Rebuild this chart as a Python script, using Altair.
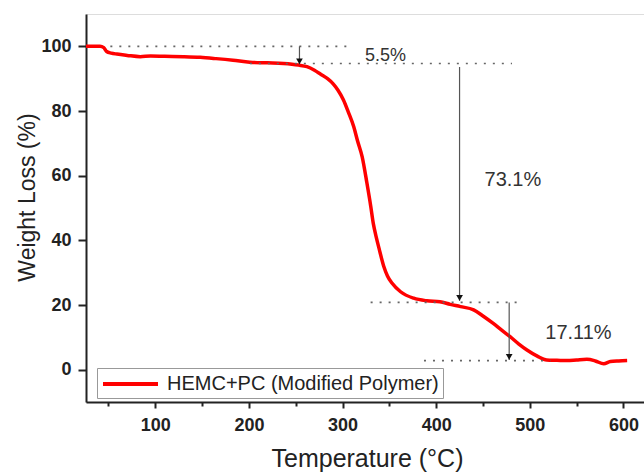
import altair as alt
import pandas as pd

# TGA curve
temps = [26, 35, 41, 45, 48, 53, 59, 70, 84, 95, 110, 130, 148, 165, 183, 201, 220, 237, 253, 262, 270,
         277, 284, 290, 295, 301, 306, 312, 316, 321, 326, 330, 333, 336, 339, 344, 348, 353, 362, 376, 390, 404,
         415, 426, 440, 450, 461, 470, 479, 488, 497, 508, 518, 529, 540, 550, 561, 570, 579, 586, 595, 604]
weights = [100, 100, 100, 99.6, 98.4, 97.9, 97.6, 97.2, 96.8, 97.0, 96.9, 96.8, 96.6, 96.2, 95.7, 95.1, 94.9, 94.7, 94.2, 93.7, 92.6,
           91.3, 90.0, 88.4, 86.5, 83.4, 79.8, 75.1, 70.8, 65.8, 57.8, 50.8, 45.0, 41.0, 37.5, 32.0, 29.0, 26.7, 24.1, 22.1, 21.3, 21.0,
           20.2, 19.5, 18.5, 16.6, 14.3, 12.2, 10.2, 8.0, 6.1, 4.2, 3.0, 2.9, 2.8, 3.0, 3.2, 2.7, 1.8, 2.5, 2.7, 2.8]
series_name = "HEMC+PC (Modified Polymer)"

# dotted reference lines
ref_x1 = [52, 201, 330, 387]
ref_x2 = [308, 481, 490, 522]
ref_y = [100, 94.7, 20.8, 2.8]

# arrows
arr_x = [254, 425, 478]
arr_y1 = [100, 93.6, 20.8]
arr_y2 = [94.4, 21.3, 3.0]

# labels
lab_text = ["5.5%", "73.1%", "17.11%"]
lab_x = [346, 482, 552]
lab_y = [97.0, 58.6, 11.3]
lab_size = [18, 20, 20]

curve = pd.DataFrame({"t": temps, "w": weights, "s": series_name})
refs = pd.DataFrame({"x1": ref_x1, "x2": ref_x2, "y": ref_y})
arrows = pd.DataFrame({"x": arr_x, "y1": arr_y1, "y2": arr_y2})
labels = pd.DataFrame({"x": lab_x, "y": lab_y, "text": lab_text, "size": lab_size})

FONT = "Liberation Sans"
xs = alt.Scale(domain=[26, 622], nice=False, zero=False)
ys = alt.Scale(domain=[-10, 110], nice=False, zero=False)

xaxis = alt.Axis(
    title="Temperature (°C)",
    values=list(range(50, 601, 50)),
    labelExpr="datum.value % 100 === 0 ? datum.label : ''",
    tickSize={"condition": {"test": "datum.value % 100 === 0", "value": 6}, "value": 4},
    grid=False, labelFont=FONT, labelFontSize=18, labelFontWeight="bold", labelColor="#222",
    labelPadding=8, titleFont=FONT, titleFontSize=25, titleFontWeight="normal", titleColor="#222",
    titleX=281, titleY=56, titleBaseline="middle", titleAlign="center",
    domainColor="#222", domainWidth=2, tickColor="#222", tickWidth=2,
)
yaxis = alt.Axis(
    title="Weight Loss (%)",
    values=list(range(0, 101, 10)),
    labelExpr="datum.value % 20 === 0 ? datum.label : ''",
    tickSize={"condition": {"test": "datum.value % 20 === 0", "value": 8}, "value": 5},
    grid=False, labelFont=FONT, labelFontSize=18, labelFontWeight="bold", labelColor="#222",
    labelPadding=7, titleFont=FONT, titleFontSize=23, titleFontWeight="normal", titleColor="#222",
    titleAngle=270, titleX=-59, titleY=183, titleBaseline="middle", titleAlign="center",
    domainColor="#222", domainWidth=2, tickColor="#222", tickWidth=2,
)

line = alt.Chart(curve).mark_line(strokeWidth=3.5, interpolate="monotone").encode(
    x=alt.X("t:Q", scale=xs, axis=xaxis),
    y=alt.Y("w:Q", scale=ys, axis=yaxis),
    color=alt.Color("s:N", scale=alt.Scale(range=["#ff0000"]), legend=alt.Legend(
        title=None, orient="none", legendX=11, legendY=354, symbolType="M-1,0H4.5",
        symbolSize=400, symbolStrokeWidth=4, labelFont=FONT, labelFontSize=20,
        labelColor="#222", labelOffset=42, padding=4, strokeColor="#999", fillColor="white",
        labelLimit=400,
    )),
)

dotted = alt.Chart(refs).mark_rule(strokeDash=[2, 7], color="#666", strokeWidth=1.6).encode(
    x="x1:Q", x2="x2:Q", y="y:Q")

arrow_lines = alt.Chart(arrows).mark_rule(color="#555", strokeWidth=1.2).encode(
    x="x:Q", y="y1:Q", y2="y2:Q")

arrow_heads = alt.Chart(arrows).mark_point(shape="triangle-down", filled=True, color="#111",
                                           size=45, opacity=1, yOffset=-3).encode(
    x="x:Q", y="y2:Q")

texts = alt.Chart(labels).mark_text(font=FONT, color="#333", align="center", baseline="middle").encode(
    x="x:Q", y="y:Q", text="text:N", size=alt.Size("size:Q", scale=None, legend=None))

chart = alt.layer(line, dotted, arrow_lines, arrow_heads, texts).properties(
    width=558, height=388,
    autosize=alt.AutoSizeParams(type="none"),
    padding={"left": 86, "top": 14, "right": 0, "bottom": 72},
).configure_view(stroke="#222", strokeWidth=2).configure(background="white")

chart.save("out.html", embed_options={"renderer": "svg", "actions": False})
